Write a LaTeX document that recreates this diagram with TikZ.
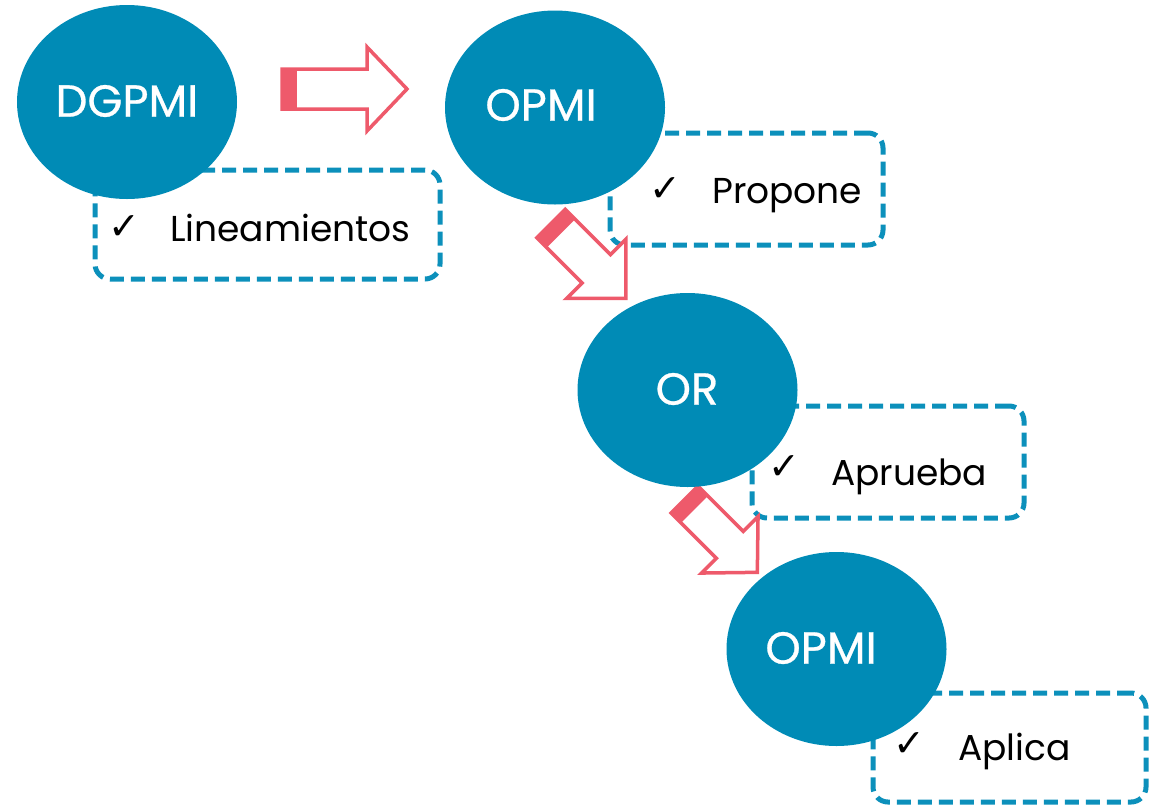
\documentclass[tikz,border=0pt]{standalone}
\usepackage{fontspec}
\setmainfont{Poppins}
\newfontfamily\medfont[FakeBold=0.6]{Poppins}
\newfontfamily\symfont{DejaVu Sans}
\usetikzlibrary{shapes.geometric}
\definecolor{ellblue}{HTML}{008BB6}
\definecolor{boxblue}{HTML}{0C90BB}
\definecolor{arrred}{HTML}{EE5A6B}
\tikzset{
  ell/.style={ellipse, fill=ellblue, draw=none, inner sep=0pt, minimum width=220pt, minimum height=194pt},
  elltext/.style={text=white, font=\medfont\fontsize{45}{45}\selectfont, inner sep=0pt},
  dbox/.style={draw=boxblue, fill=white, line width=5pt, rounded corners=15pt, dash pattern=on 14pt off 7pt, inner sep=0pt},
  chk/.style={font=\symfont\fontsize{38}{38}\selectfont, anchor=base west, inner sep=0pt},
  btext/.style={font=\fontsize{36}{36}\selectfont, anchor=base west, inner sep=0pt},
  arrline/.style={draw=arrred, line width=3.5pt, fill=white, line join=miter},
}
\newcommand\blockarr[7]{%
  \begin{scope}[shift={#1},rotate=#2]
    \draw[arrline] (0,-#4) -- (#3-#6,-#4) -- (#3-#6,-#5) -- (#3,0) -- (#3-#6,#5) -- (#3-#6,#4) -- (0,#4) -- cycle;
    \fill[arrred] (0,-#4) rectangle (#7,#4);
  \end{scope}}
\begin{document}
\begin{tikzpicture}[x=1pt,y=-1pt]
\useasboundingbox (0,0) rectangle (1153,804);
% boxes
\node[dbox, minimum width=345pt, minimum height=109pt] (b1) at (267.5,224.5) {};
\node[dbox, minimum width=273pt, minimum height=112pt] (b2) at (746.5,189) {};
\node[dbox, minimum width=272pt, minimum height=112pt] (b3) at (888,462) {};
\node[dbox, minimum width=273pt, minimum height=109pt] (b4) at (1009.5,747.5) {};
% arrows
\blockarr{(282,89)}{0}{125}{20}{42}{40}{15}
\blockarr{(551,223.5)}{-45}{106}{20}{42}{42}{14}
\blockarr{(684.5,499.5)}{-45}{103}{19}{40}{39}{14}
% ellipses
\node[ell] (e1) at (127,102) {};
\node[ell] (e2) at (555,107.5) {};
\node[ell] (e3) at (687.5,390) {};
\node[ell] (e4) at (836.5,649) {};
\node[elltext] (t1) at (127,101) {DGPMI};
\node[elltext] (t2) at (541,105) {OPMI};
\node[elltext] (t3) at (687,389) {OR};
\node[elltext] (t4) at (821,648) {OPMI};
% checks and texts
\node[chk] (c1) at (108,239) {✓};
\node[btext] (l1) at (170,241) {Lineamientos};
\node[chk] (c2) at (649,201) {✓};
\node[btext] (l2) at (712,203) {Propone};
\node[chk] (c3) at (768,479) {✓};
\node[btext] (l3) at (831,485) {Aprueba};
\node[chk] (c4) at (893,756) {✓};
\node[btext] (l4) at (958,760) {Aplica};
\end{tikzpicture}
\end{document}
